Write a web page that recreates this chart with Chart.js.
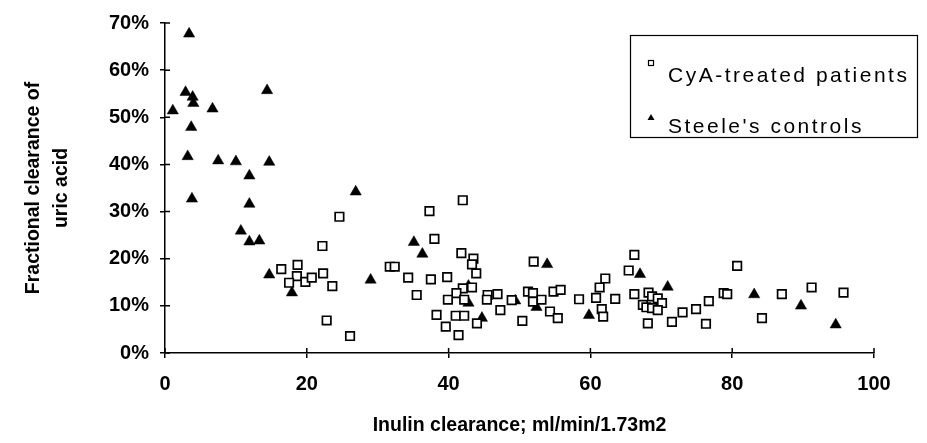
<!DOCTYPE html>
<html><head><meta charset="utf-8">
<script src="https://cdn.jsdelivr.net/npm/chart.js@4/dist/chart.umd.min.js"></script>
<style>html,body{margin:0;padding:0;background:#fff}#wrap{position:relative;width:927px;height:443px}</style>
</head><body><div id="wrap"><canvas id="c" width="927" height="443"></canvas></div>
<script>
// ---- data ----
const seriesNames = ['CyA-treated patients', "Steele's controls"];
const xTitle = 'Inulin clearance; ml/min/1.73m2';
const yTitle = ['Fractional clearance of', 'uric acid'];
const xTickValues = [0, 20, 40, 60, 80, 100];
const yTickLabels = ['0%', '10%', '20%', '30%', '40%', '50%', '60%', '70%'];

const cyaX = [16.4,18.7,18.6,17.5,19.8,20.7,22.3,23.6,22.2,24.6,22.8,26.1,31.7,32.4,34.3,35.5,37.3,38.0,37.5,39.8,
  42.0,41.8,43.5,43.3,43.9,42.0,43.3,41.1,39.9,42.2,45.5,45.4,38.3,41.0,42.2,39.6,41.4,44.0,46.9,47.3,
  48.9,50.4,52.0,51.2,51.9,51.9,53.1,54.3,55.4,54.8,55.8,58.4,60.8,61.3,62.1,63.5,61.6,61.8,66.2,65.4,
  66.2,68.2,68.7,69.5,70.1,67.4,67.9,68.7,69.5,68.1,71.5,73.0,74.9,76.7,76.3,78.8,79.3,80.7,84.2,87.0,
  91.2,95.7];
const cyaY = [17.8,18.7,16.3,14.9,15.1,16.0,16.9,14.2,22.7,28.9,6.9,3.6,18.3,18.3,16.0,12.3,30.1,24.2,15.6,16.1,
  32.4,21.2,20.0,18.8,16.9,13.7,13.9,12.7,11.3,11.3,12.3,11.3,8.1,7.9,7.9,5.6,3.8,6.3,12.5,9.1,
  11.2,6.8,19.4,13.0,12.7,10.9,11.3,8.8,7.4,13.0,13.4,11.4,11.7,13.9,15.8,11.5,9.3,7.7,20.8,17.5,
  12.5,12.8,12.0,11.6,10.6,10.2,9.7,9.5,9.1,6.3,6.6,8.6,9.3,11.0,6.2,12.7,12.5,18.5,7.4,12.5,
  13.9,12.8];

const steeleX = [3.4,2.9,3.9,4.0,1.1,6.7,14.4,3.7,3.2,7.5,10.0,14.7,11.9,3.8,11.9,10.7,11.9,13.3,14.7,17.9,
  26.9,29.0,35.1,36.3,42.8,42.8,44.7,49.4,52.4,53.9,59.8,67.0,70.9,83.1,89.7,94.6];
const steeleY = [67.7,55.3,54.3,53.0,51.4,51.8,55.7,47.9,41.7,40.8,40.6,40.5,37.6,32.7,31.6,25.9,23.6,23.8,16.6,12.8,
  34.2,15.5,23.5,21.0,14.2,10.6,7.4,11.1,9.7,18.8,8.0,16.7,14.0,12.4,10.0,6.0];

// ---- chart ----
const FONT = '"Liberation Sans", Arial, Helvetica, sans-serif';
const toPts = (xs, ys) => xs.map((x, i) => ({x: x, y: ys[i]}));

const innerTicks = {
  id: 'innerTicks',
  afterDatasetsDraw(chart) {
    const ctx = chart.ctx, xs = chart.scales.x, ys = chart.scales.y;
    ctx.save();
    ctx.strokeStyle = '#000';
    ctx.lineWidth = 1.5;
    ctx.beginPath();
    xs.ticks.forEach(t => {
      const px = xs.getPixelForValue(t.value);
      ctx.moveTo(px, ys.bottom); ctx.lineTo(px, ys.bottom - 5);
    });
    ys.ticks.forEach(t => {
      const py = ys.getPixelForValue(t.value);
      ctx.moveTo(xs.left, py); ctx.lineTo(xs.left + 5, py);
    });
    ctx.stroke();
    ctx.restore();
  }
};

const boxLegend = {
  id: 'boxLegend',
  afterDraw(chart) {
    const ctx = chart.ctx;
    ctx.save();
    ctx.strokeStyle = '#000';
    ctx.lineWidth = 1.2;
    ctx.strokeRect(630.5, 35.5, 287, 102);
    ctx.lineWidth = 1.2;
    ctx.strokeRect(648.5, 60.5, 5, 5);
    ctx.fillStyle = '#000';
    ctx.beginPath();
    ctx.moveTo(651, 114); ctx.lineTo(654.5, 120); ctx.lineTo(647.5, 120); ctx.closePath();
    ctx.fill();
    ctx.font = '21px ' + FONT;
    ctx.textBaseline = 'middle';
    ctx.textAlign = 'left';
    try { ctx.letterSpacing = '2.5px'; } catch (e) {}
    ctx.fillText(seriesNames[0], 668, 76);
    ctx.fillText(seriesNames[1], 668, 127);
    ctx.restore();
  }
};

new Chart(document.getElementById('c'), {
  type: 'scatter',
  data: {
    datasets: [
      {label: seriesNames[0], data: toPts(cyaX, cyaY), pointStyle: 'rect', pointRadius: 6,
       backgroundColor: 'rgba(255,255,255,1)', borderColor: '#000', borderWidth: 1.7},
      {label: seriesNames[1], data: toPts(steeleX, steeleY), pointStyle: 'triangle', pointRadius: 6.5,
       backgroundColor: '#000', borderColor: '#000', borderWidth: 0.5}
    ]
  },
  options: {
    responsive: false,
    animation: false,
    devicePixelRatio: 1,
    layout: {padding: {left: 0, top: 23, right: 53, bottom: 0}},
    plugins: {legend: {display: false}, tooltip: {enabled: false}},
    scales: {
      x: {
        type: 'linear', min: 0, max: 100,
        afterBuildTicks: s => { s.ticks = xTickValues.map(v => ({value: v})); },
        ticks: {color: '#000', font: {family: FONT, size: 20, weight: 'bold'}, padding: 14, maxRotation: 0,
                callback: v => String(v)},
        grid: {display: true, drawOnChartArea: false, drawTicks: true, tickLength: 5, color: '#000', lineWidth: 1.5},
        border: {display: true, color: '#000', width: 1.5},
        title: {display: true, text: xTitle, color: '#000', font: {family: FONT, size: 19.5, weight: 'bold'},
                padding: {top: 0, bottom: 6}},
        afterFit: s => { s.height = 90; }
      },
      y: {
        type: 'linear', min: 0, max: 70,
        afterBuildTicks: s => { s.ticks = yTickLabels.map((l, i) => ({value: i * 10})); },
        ticks: {color: '#000', font: {family: FONT, size: 20, weight: 'bold'}, padding: 11,
                callback: v => yTickLabels[Math.round(v / 10)]},
        grid: {display: true, drawOnChartArea: false, drawTicks: true, tickLength: 5, color: '#000', lineWidth: 1.5},
        border: {display: true, color: '#000', width: 1.5},
        title: {display: true, text: yTitle, color: '#000', font: {family: FONT, size: 19.5, weight: 'bold', lineHeight: 1.44},
                padding: {top: 20, bottom: 0}},
        afterFit: s => { s.width = 165; }
      }
    }
  },
  plugins: [innerTicks, boxLegend]
});
</script></body></html>
